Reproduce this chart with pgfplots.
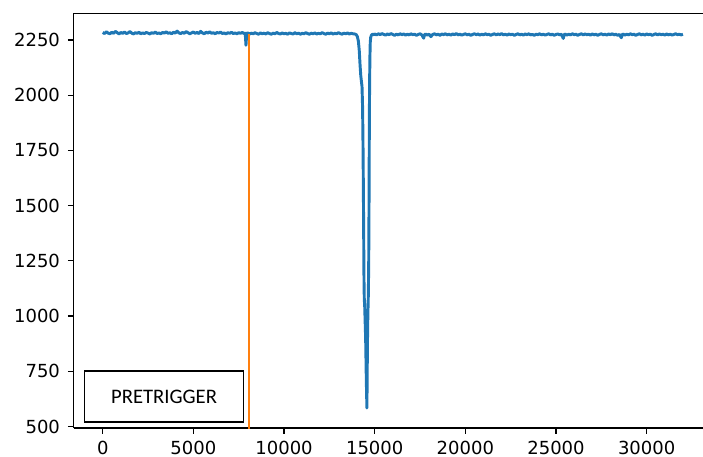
\documentclass[border=0pt]{standalone}
\usepackage{fontspec}
\setmainfont{DejaVu Sans}
\newfontfamily\calibri{Carlito}
\usepackage{pgfplots}
\pgfplotsset{compat=1.18}
\definecolor{mplblue}{HTML}{1F77B4}
\definecolor{mplorange}{HTML}{FF7F0E}

\begin{document}
\begin{tikzpicture}
\begin{axis}[
  scale only axis, width=472pt, height=311pt,
  xmin=-1600, xmax=33107, ymin=493, ymax=2370,
  axis x line*=box, axis y line*=left,
  axis line style={line width=1pt, -},
  xtick={0,5000,...,30000}, ytick={500,750,...,2250},
  xtick pos=left, ytick pos=left,
  scaled x ticks=false, scaled y ticks=false,
  tick align=outside, major tick length=4.3pt,
  tick style={black, line width=0.9pt},
  tick label style={font=\fontsize{13.5}{16}\selectfont},
  xticklabel style={yshift=-1.8pt},
  yticklabel style={xshift=-2.5pt},
  /pgf/number format/1000 sep={},
  /pgf/number format/assume math mode=true,
]
% ADC trace
\addplot[mplblue, line width=2.2pt, line join=round] coordinates {
(0,2284) (100,2279) (200,2287) (300,2281) (400,2278) (500,2285) (600,2280) (700,2289) (800,2283) (900,2277)
(1000,2284) (1100,2280) (1200,2286) (1300,2279) (1400,2282) (1500,2288) (1600,2281) (1700,2277) (1800,2283) (1900,2280)
(2000,2285) (2100,2278) (2200,2282) (2300,2279) (2400,2284) (2500,2281) (2600,2277) (2700,2283) (2800,2280) (2900,2286)
(3000,2279) (3100,2282) (3200,2278) (3300,2284) (3400,2281) (3500,2287) (3600,2280) (3700,2283) (3800,2278) (3900,2285)
(4000,2281) (4100,2290) (4200,2282) (4300,2279) (4400,2284) (4500,2280) (4600,2288) (4700,2283) (4800,2278) (4900,2282)
(5000,2286) (5100,2280) (5200,2284) (5300,2279) (5400,2289) (5500,2282) (5600,2278) (5700,2285) (5800,2281) (5900,2287)
(6000,2280) (6100,2283) (6200,2278) (6300,2284) (6400,2281) (6500,2286) (6600,2279) (6700,2282) (6800,2277) (6900,2283)
(7000,2280) (7100,2285) (7200,2279) (7300,2282) (7400,2278) (7500,2283) (7600,2280) (7700,2284) (7800,2279) (7860,2281)
(7900,2226) (7940,2279) (8000,2282)
(8100,2277) (8200,2281) (8300,2278) (8400,2283) (8500,2279) (8600,2276) (8700,2282) (8800,2278) (8900,2281)
(9000,2277) (9100,2283) (9200,2279) (9300,2276) (9400,2281) (9500,2278) (9600,2284) (9700,2279) (9800,2277) (9900,2282)
(10000,2278) (10100,2280) (10200,2276) (10300,2282) (10400,2279) (10500,2277) (10600,2283) (10700,2278) (10800,2281) (10900,2276)
(11000,2280) (11100,2278) (11200,2283) (11300,2279) (11400,2276) (11500,2281) (11600,2278) (11700,2282) (11800,2277) (11900,2280)
(12000,2278) (12100,2283) (12200,2279) (12300,2276) (12400,2281) (12500,2278) (12600,2282) (12700,2277) (12800,2280) (12900,2278)
(13000,2283) (13100,2279) (13200,2276) (13300,2281) (13400,2278) (13500,2282) (13600,2277) (13700,2280) (13800,2278) (13900,2277)
(13980,2274) (14040,2266) (14100,2245) (14150,2200) (14190,2140) (14230,2090) (14270,2060) (14300,2040)
(14330,1950) (14350,1820) (14365,1680) (14378,1540) (14390,1400) (14400,1270) (14410,1160) (14425,1080) (14450,1040)
(14500,900) (14540,700) (14570,584) (14590,780) (14610,950) (14630,1030)
(14650,1100) (14670,1250) (14682,1420) (14692,1600) (14700,1780) (14710,1950) (14722,2080) (14738,2180) (14755,2240)
(14780,2262) (14820,2272) (14880,2276)
(14950,2274) (15000,2277) (15100,2273) (15200,2278) (15300,2274) (15400,2279) (15500,2275) (15600,2272) (15700,2277) (15800,2274) (15900,2279)
(16000,2275) (16100,2271) (16200,2276) (16300,2273) (16400,2278) (16500,2274) (16600,2277) (16700,2272) (16800,2276) (16900,2273)
(17000,2278) (17100,2274) (17200,2276) (17300,2271) (17400,2275) (17500,2278) (17600,2273) (17700,2258) (17750,2274) (17800,2277)
(17900,2272) (18000,2276) (18100,2265) (18200,2275) (18300,2278) (18400,2273) (18500,2276) (18600,2271) (18700,2277) (18800,2274)
(18900,2278) (19000,2273) (19100,2276) (19200,2272) (19300,2277) (19400,2274) (19500,2279) (19600,2273) (19700,2276) (19800,2272)
(19900,2275) (20000,2278) (20100,2273) (20200,2276) (20300,2271) (20400,2275) (20500,2278) (20600,2274) (20700,2277) (20800,2272)
(20900,2276) (21000,2273) (21100,2278) (21200,2274) (21300,2276) (21400,2271) (21500,2275) (21600,2278) (21700,2273) (21800,2277)
(21900,2274) (22000,2279) (22100,2273) (22200,2276) (22300,2272) (22400,2277) (22500,2274) (22600,2276) (22700,2271) (22800,2275)
(22900,2278) (23000,2273) (23100,2276) (23200,2272) (23300,2277) (23400,2274) (23500,2278) (23600,2273) (23700,2275) (23800,2271)
(23900,2276) (24000,2274) (24100,2278) (24200,2273) (24300,2276) (24400,2272) (24500,2275) (24600,2278) (24700,2273) (24800,2276)
(24900,2271) (25000,2275) (25100,2277) (25200,2273) (25300,2276) (25400,2257) (25450,2274) (25500,2277) (25600,2272) (25700,2276)
(25800,2273) (25900,2278) (26000,2274) (26100,2276) (26200,2271) (26300,2275) (26400,2278) (26500,2273) (26600,2277) (26700,2274)
(26800,2276) (26900,2272) (27000,2277) (27100,2273) (27200,2276) (27300,2271) (27400,2275) (27500,2278) (27600,2273) (27700,2276)
(27800,2272) (27900,2277) (28000,2274) (28100,2278) (28200,2273) (28300,2276) (28400,2271) (28500,2275) (28600,2260) (28650,2274)
(28700,2277) (28800,2272) (28900,2276) (29000,2273) (29100,2278) (29200,2274) (29300,2276) (29400,2271) (29500,2275) (29600,2278)
(29700,2273) (29800,2276) (29900,2272) (30000,2277) (30100,2274) (30200,2276) (30300,2271) (30400,2275) (30500,2278) (30600,2273)
(30700,2277) (30800,2274) (30900,2276) (31000,2272) (31100,2277) (31200,2273) (31300,2276) (31400,2272) (31500,2275) (31600,2278)
(31700,2274) (31800,2276) (31900,2273) (32000,2276)
};
% trigger marker
\addplot[mplorange, line width=1.1pt] coordinates {(8070,400) (8070,2276)};
\node[draw=black, line width=1.1pt, fill=white, minimum width=119.5pt, minimum height=38.5pt,
      inner sep=0pt, font=\calibri\fontsize{15.5}{18}\selectfont]
      at (axis cs:3382,636) {PRETRIGGER};
\end{axis}
\pgfresetboundingbox
\path[use as bounding box] (-55.3pt,-21.5pt) rectangle (472pt,321.1pt);
\end{tikzpicture}
\end{document}
